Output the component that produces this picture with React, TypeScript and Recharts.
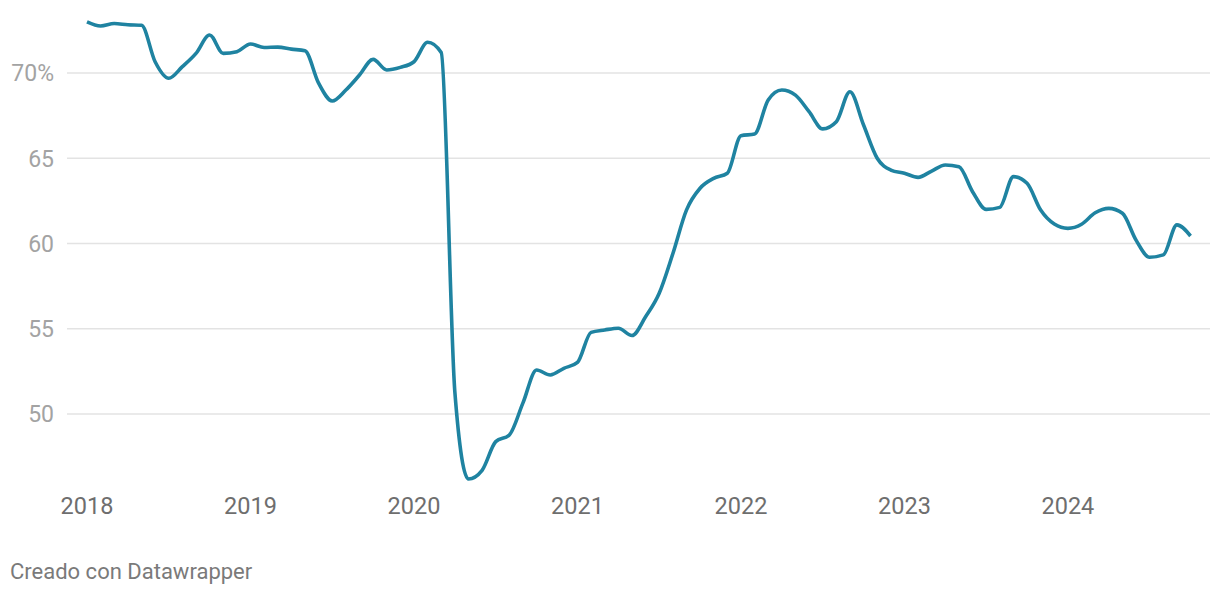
import { LineChart, Line, XAxis, YAxis, ReferenceLine } from "recharts";

// monthly values, Jan 2018 – Oct 2024 (%)
const v2018 = [73.0, 72.76, 72.9, 72.83, 72.8, 70.66, 69.69, 70.37, 71.15, 72.23, 71.15, 71.25];
const v2019 = [71.7, 71.5, 71.52, 71.4, 71.3, 69.4, 68.36, 69.0, 69.88, 70.8, 70.18, 70.33];
const v2020 = [70.66, 71.8, 71.2, 51.3, 46.19, 46.7, 48.38, 48.77, 50.65, 52.58, 52.29, 52.68];
const v2021 = [53.03, 54.79, 54.93, 55.03, 54.6, 55.7, 57.08, 59.4, 61.96, 63.24, 63.82, 64.12];
const v2022 = [66.32, 66.42, 68.42, 69.0, 68.7, 67.73, 66.72, 67.14, 68.9, 66.95, 65.0, 64.31];
const v2023 = [64.12, 63.88, 64.25, 64.6, 64.5, 63.04, 62.0, 62.12, 63.92, 63.53, 61.96, 61.14];
const v2024 = [60.89, 61.13, 61.8, 62.06, 61.77, 60.2, 59.19, 59.33, 61.09, 60.44];

const years = [2018, 2019, 2020, 2021, 2022, 2023, 2024];
const yTicks = [50, 55, 60, 65, 70];

const byYear = [v2018, v2019, v2020, v2021, v2022, v2023, v2024];
const data = byYear.flatMap((vals, yi) =>
  vals.map((v, m) => ({ t: years[yi] + m / 12, value: v }))
);

const LINE = "#1f83a1";
const GRID = "#e3e3e3";

function YTick(props: any) {
  const { y, payload } = props;
  const label = payload.value === 70 ? "70%" : String(payload.value);
  return (
    <text x={54} y={y} dy="0.36em" textAnchor="end" fill="#a3a3a3" fontSize={23} fontFamily="Roboto">
      {label}
    </text>
  );
}

function XTick(props: any) {
  const { x, y, payload } = props;
  return (
    <text x={x} y={y + 24} textAnchor="middle" fill="#6e6e6e" fontSize={23.5} fontFamily="Roboto">
      {payload.value}
    </text>
  );
}

export default function App() {
  return (
    <div style={{ position: "absolute", left: 0, top: 0, width: 1220, height: 596, background: "#fff", fontFamily: "Roboto" }}>
      <LineChart
        width={1220}
        height={530}
        data={data}
        margin={{ top: 4.8, right: 10, bottom: 7.8, left: 0 }}
      >
        <XAxis
          dataKey="t"
          type="number"
          domain={[2017.8777, 2024.869]}
          ticks={years}
          allowDataOverflow
          axisLine={false}
          tickLine={false}
          height={40}
          tick={<XTick />}
        />
        <YAxis
          type="number"
          domain={[46, 74]}
          ticks={yTicks}
          allowDataOverflow
          axisLine={false}
          tickLine={false}
          width={67}
          tick={<YTick />}
        />
        {yTicks.map((t) => (
          <ReferenceLine key={t} y={t} stroke={GRID} strokeWidth={1.5} />
        ))}
        <Line
          type="monotone"
          dataKey="value"
          stroke={LINE}
          strokeWidth={3.6}
          dot={false}
          isAnimationActive={false}
        />
      </LineChart>
      <div style={{ position: "absolute", left: 10, top: 558.5, fontSize: 22, color: "#7a7a7a", fontFamily: "Roboto" }}>
        Creado con Datawrapper
      </div>
    </div>
  );
}
